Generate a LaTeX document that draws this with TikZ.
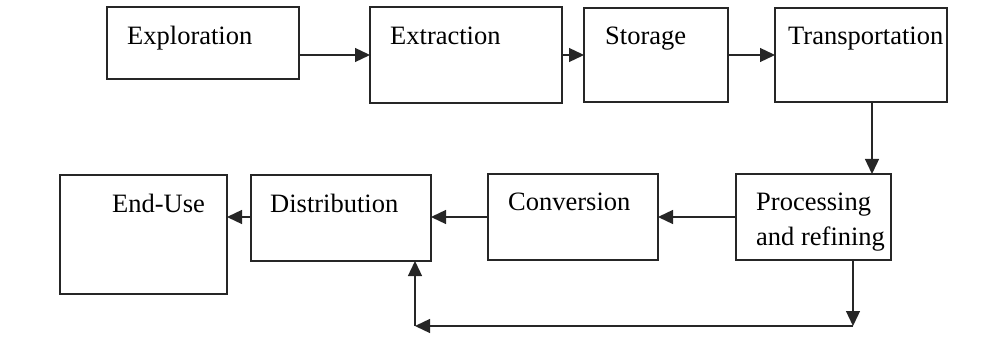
\documentclass[tikz,border=0pt]{standalone}
\usepackage{fontspec}
\setmainfont{Liberation Serif}
\usetikzlibrary{arrows.meta}
\begin{document}
\begin{tikzpicture}[x=1pt,y=-1pt,
  box/.style={draw=black!85, line width=1.3pt, inner sep=0pt, outer sep=0pt, rectangle},
  lbl/.style={anchor=base west, inner sep=0pt, font=\fontsize{26.5}{34}\selectfont},
  arr/.style={draw=black!85, line width=1.3pt, -{Triangle[length=15pt,width=14pt]}}]
\useasboundingbox (0,0) rectangle (1005,342);
% boxes
\node[box, minimum width=192pt, minimum height=72pt] (expl) at (203,43) {};
\node[box, minimum width=192pt, minimum height=96pt] (extr) at (466,55) {};
\node[box, minimum width=144pt, minimum height=94pt] (stor) at (656,55) {};
\node[box, minimum width=172pt, minimum height=94pt] (trans) at (861,55) {};
\node[box, minimum width=155pt, minimum height=86pt] (proc) at (813.5,217) {};
\node[box, minimum width=170pt, minimum height=86pt] (conv) at (573,217) {};
\node[box, minimum width=180pt, minimum height=86pt] (dist) at (341,218) {};
\node[box, minimum width=167pt, minimum height=119pt] (enduse) at (143.5,234.5) {};
% labels
\node[lbl] (lexpl) at (127,45) {Exploration};
\node[lbl] (lextr) at (390,45) {Extraction};
\node[lbl] (lstor) at (605,45) {Storage};
\node[lbl] (ltrans) at (788,45) {Transportation};
\node[lbl] (lproc1) at (756,211) {Processing};
\node[lbl] (lproc2) at (756,245) {and refining};
\node[lbl] (lconv) at (508,211) {Conversion};
\node[lbl] (ldist) at (270,213) {Distribution};
\node[lbl] (lend) at (112,213) {End-Use};
% coordinates
\coordinate (tdown) at (872,0);
\coordinate (c1) at (853,326);
\coordinate (c2) at (415,326);
% arrows
\draw[arr] (expl.east |- extr.west) -- (extr.west);
\draw[arr] (extr.east) -- (stor.west);
\draw[arr] (stor.east) -- (trans.west);
\draw[arr] (trans.south -| tdown) -- (proc.north -| tdown);
\draw[arr] (proc.west) -- (conv.east);
\draw[arr] (conv.west) -- (conv.west -| dist.east);
\draw[arr] (dist.west |- 0,217) -- (enduse.east |- 0,217);
\draw[arr] (proc.south -| c1) -- (c1);
\draw[arr] (c1) -- (c2);
\draw[arr] (c2) -- (c2 |- dist.south);
\end{tikzpicture}
\end{document}
